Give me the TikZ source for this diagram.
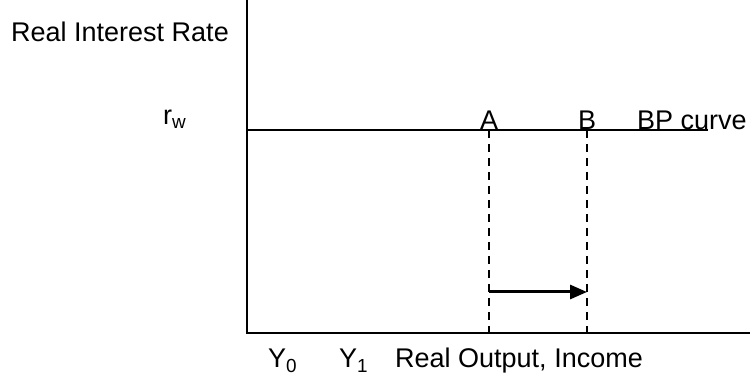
\documentclass[tikz,border=0pt]{standalone}
\usepackage{fontspec}
\setmainfont{Liberation Sans}
\usetikzlibrary{arrows.meta}

\begin{document}
\begin{tikzpicture}[x=1pt, y=1pt, >={Triangle[length=17pt,width=14pt]},
  axis/.style={line width=2pt},
  guide/.style={line width=1.5pt, dash pattern=on 8pt off 6pt},
  lbl/.style={font=\fontsize{27}{32}\selectfont, inner sep=0pt}]
  \useasboundingbox (0,0) rectangle (750,377);
  % Axes
  \coordinate (O) at (247,44);
  \coordinate (ytop) at (247,377);
  \coordinate (xend) at (750,44);
  \draw[axis] (ytop) -- (O) -- (xend);
  \node[lbl, anchor=base west] (ylab) at (11,335) {Real Interest Rate};
  \node[lbl, anchor=base west] (y0) at (268,9) {Y\textsubscript{0}};
  \node[lbl, anchor=base west] (y1) at (339,9) {Y\textsubscript{1}};
  \node[lbl, anchor=base west] (xlab) at (395,9) {Real Output, Income};
  % BP curve at the world rate
  \node[lbl, anchor=base west] (rw) at (163,252) {r\textsubscript{w}};
  \coordinate (bp0) at (247,247);
  \coordinate (bp1) at (708,247);
  \draw[axis] (bp0) -- (bp1);
  \node[lbl, anchor=base] (A) at (489,247) {A};
  \node[lbl, anchor=base] (B) at (587,247) {B};
  \node[lbl, anchor=base west] (bp) at (637,247) {BP curve};
  % Output levels down to the axis
  \draw[guide] (A.base) -- (A.base |- O);
  \draw[guide] (B.base) -- (B.base |- O);
  % Shift in output
  \coordinate (a1) at (489,85);
  \coordinate (b1) at (587,85);
  \draw[->, line width=3pt] (a1) -- (b1);
\end{tikzpicture}
\end{document}
